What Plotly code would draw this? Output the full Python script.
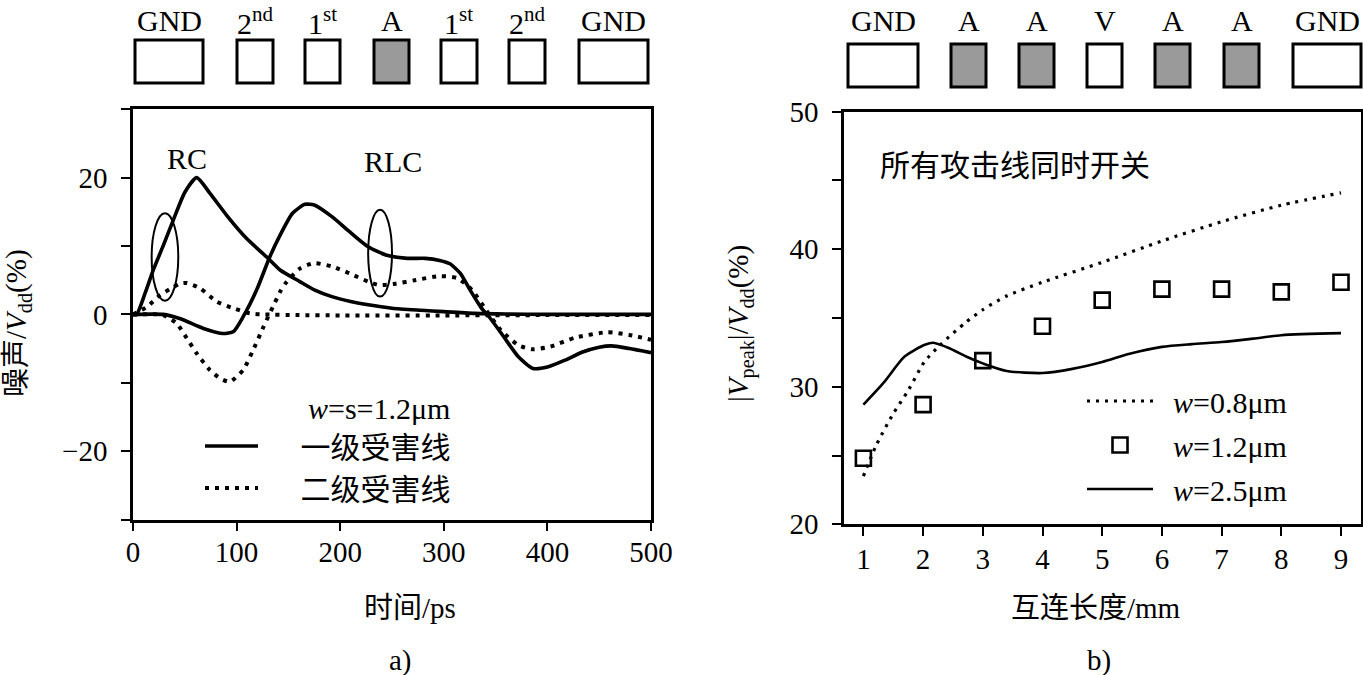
import plotly.graph_objects as go

W, H = 1363, 675

# ---------------- Panel a) data: noise vs time ----------------
# first-level victim, RC model (solid)
t_rc1 = [0, 3.5, 11.7, 19.6, 29.3, 38.9, 50.2, 61.5, 74.3, 90.4, 109.7, 129, 142, 161, 175,
         192, 210, 227, 250, 278, 300, 330, 360, 400, 450, 500]
v_rc1 = [0, 0, 3.1, 6.5, 10.1, 13.8, 17.9, 20.0, 17.7, 14.5, 11.1, 8.4, 6.5, 4.8, 3.6,
         2.6, 1.9, 1.4, 0.9, 0.6, 0.4, 0.15, 0.05, 0, 0, 0]
# first-level victim, RLC model (solid)
t_rlc1 = [0, 29, 45, 68, 87, 97, 106.5, 119.4, 132, 142, 154, 166, 175, 192, 209, 227, 244,
          265, 282, 296, 306, 316, 326, 336, 345, 358, 372, 386, 400, 417, 434, 450, 462, 479, 500]
v_rlc1 = [0, 0, -0.6, -2.05, -2.8, -2.5, -0.3, 3.6, 8.4, 11.6, 14.8, 16.1, 16.0, 14.3, 12.1,
          9.9, 8.7, 8.2, 8.2, 7.9, 7.4, 6.0, 3.4, 1.0, -0.6, -3.3, -6.2, -7.9, -7.7, -6.7,
          -5.5, -4.8, -4.6, -5.0, -5.6]
# second-level victim, RC model (dotted)
t_rc2 = [0, 13.5, 26, 39, 45, 52, 65, 81, 97, 113, 126, 160, 200, 300, 400, 500]
v_rc2 = [0, 1.1, 2.8, 4.0, 4.5, 4.6, 3.8, 1.85, 0.9, 0.15, 0, -0.1, -0.15, -0.15, -0.1, -0.1]
# second-level victim, RLC model (dotted)
t_rlc2 = [0, 29, 42, 52, 61.5, 74, 84, 93.6, 106.5, 116, 126, 135, 142, 147, 161, 175, 192,
          209, 227, 237, 254, 272, 296, 313, 327, 341, 355, 372, 386, 403, 427, 458, 479, 500]
v_rlc2 = [0, -0.1, -1.3, -3.5, -5.7, -8.1, -9.35, -9.85, -8.1, -5.2, -1.8, 1.1, 3.3, 4.5,
          6.7, 7.5, 7.0, 6.0, 4.8, 4.3, 4.5, 5.0, 5.6, 5.3, 3.6, 0.6, -2.3, -4.5, -5.1, -4.7,
          -3.4, -2.6, -3.0, -3.7]

a_xticks = [0, 100, 200, 300, 400, 500]
a_yticks = [-20, 0, 20]
a_yticktext = ["\u221220", "0", "20"]
a_yminor = [-30, -10, 10, 30]

# ---------------- Panel b) data: peak noise vs length ----------------
len_w08 = [1, 1.21, 1.48, 1.76, 2.02, 2.3, 2.72, 3, 3.4, 4, 5, 6, 7, 8, 9]
peak_w08 = [23.5, 25.7, 27.9, 29.8, 31.8, 33.1, 34.7, 35.6, 36.6, 37.6, 39.05, 40.6, 42, 43.2, 44.1]
len_w12 = [1, 2, 3, 4, 5, 6, 7, 8, 9]
peak_w12 = [24.8, 28.7, 31.9, 34.4, 36.3, 37.1, 37.1, 36.9, 37.6]
len_w25 = [1, 1.34, 1.69, 2.03, 2.17, 2.44, 2.72, 3, 3.4, 4, 4.5, 5, 5.46, 6, 6.5, 7, 7.53, 8, 9]
peak_w25 = [28.7, 30.3, 32.2, 33.05, 33.2, 32.8, 32.2, 31.7, 31.15, 31.0, 31.3, 31.8, 32.4,
            32.9, 33.1, 33.25, 33.5, 33.75, 33.9]

b_xticks = [1, 2, 3, 4, 5, 6, 7, 8, 9]
b_yticks = [20, 30, 40, 50]
b_yminor = [25, 35, 45]

# wire cross-section schematic labels
a_wire_labels = ["GND", "2<sup>nd</sup>", "1<sup>st</sup>", "A", "1<sup>st</sup>", "2<sup>nd</sup>", "GND"]
a_wire_fill = ["white", "white", "white", "#9a9a9a", "white", "white", "white"]
b_wire_labels = ["GND", "A", "A", "V", "A", "A", "GND"]
b_wire_fill = ["white", "#9a9a9a", "#9a9a9a", "white", "#9a9a9a", "#9a9a9a", "white"]

# ---------------- styling / layout geometry (pixels) ----------------
SERIF = "Liberation Serif, Noto Sans CJK SC, serif"
CJK = "Noto Sans CJK SC, Liberation Serif, sans-serif"
a_wire_x = [(135, 203), (237, 273), (305, 340), (374, 409), (441, 477), (509, 545), (579, 648)]
a_wire_y = (40, 83)
b_wire_x = [(848, 918), (951, 986), (1019, 1054), (1087, 1122), (1155, 1190), (1224, 1259), (1293, 1361)]
b_wire_y = (44, 87)


def px(x):
    return x / W


def py(y):
    return 1 - y / H


def font(size, fam=SERIF):
    return dict(family=fam, size=size, color="black")


fig = go.Figure()

solid_a = dict(color="black", width=3.6, shape="spline", smoothing=0.6)
dot_a = dict(color="black", width=4, dash="4px,6px", shape="spline", smoothing=0.6)

fig.add_trace(go.Scatter(x=t_rc1, y=v_rc1, mode="lines", line=solid_a, xaxis="x", yaxis="y",
                         name="\u00a0" * 5 + "一级受害线", legendgroup="g1", legend="legend",
                         showlegend=True))
fig.add_trace(go.Scatter(x=t_rlc1, y=v_rlc1, mode="lines", line=solid_a, xaxis="x", yaxis="y",
                         showlegend=False, legendgroup="g1"))
fig.add_trace(go.Scatter(x=t_rc2, y=v_rc2, mode="lines", line=dot_a, xaxis="x", yaxis="y",
                         name="\u00a0" * 5 + "二级受害线", legendgroup="g2", legend="legend",
                         showlegend=True))
fig.add_trace(go.Scatter(x=t_rlc2, y=v_rlc2, mode="lines", line=dot_a, xaxis="x", yaxis="y",
                         showlegend=False, legendgroup="g2"))

fig.add_trace(go.Scatter(x=len_w08, y=peak_w08, mode="lines", xaxis="x2", yaxis="y2",
                         line=dict(color="black", width=3.2, dash="3px,6px", shape="spline", smoothing=0.7),
                         name="\u00a0\u00a0<i>w</i>=0.8\u03bcm", legend="legend2", legendgroup="h1"))
fig.add_trace(go.Scatter(x=len_w12, y=peak_w12, mode="markers", xaxis="x2", yaxis="y2",
                         marker=dict(symbol="square-open", size=15, color="black", line=dict(width=2.6)),
                         name="\u00a0\u00a0<i>w</i>=1.2\u03bcm", legend="legend2", legendgroup="h2"))
fig.add_trace(go.Scatter(x=len_w25, y=peak_w25, mode="lines", xaxis="x2", yaxis="y2",
                         line=dict(color="black", width=2.6, shape="spline", smoothing=0.7),
                         name="\u00a0\u00a0<i>w</i>=2.5\u03bcm", legend="legend2", legendgroup="h3"))

axis_common = dict(showline=True, linecolor="black", linewidth=2.5, mirror=True, ticks="outside",
                   ticklen=9, tickwidth=2, tickcolor="black", showgrid=False, zeroline=False,
                   automargin=False, tickfont=font(29))


def minor(vals):
    return dict(tickmode="array", tickvals=vals, ticks="outside", ticklen=9, tickwidth=2,
                tickcolor="black", showgrid=False)


shapes = []
for (x0, x1), fill in zip(a_wire_x, a_wire_fill):
    shapes.append(dict(type="rect", xref="paper", yref="paper", x0=px(x0), x1=px(x1),
                       y0=py(a_wire_y[1]), y1=py(a_wire_y[0]), fillcolor=fill,
                       line=dict(color="black", width=3)))
for (x0, x1), fill in zip(b_wire_x, b_wire_fill):
    shapes.append(dict(type="rect", xref="paper", yref="paper", x0=px(x0), x1=px(x1),
                       y0=py(b_wire_y[1]), y1=py(b_wire_y[0]), fillcolor=fill,
                       line=dict(color="black", width=3)))
# ellipses marking RC / RLC difference
shapes.append(dict(type="circle", xref="x", yref="y", x0=18, x1=43.7, y0=2.0, y1=14.8,
                   line=dict(color="black", width=2)))
shapes.append(dict(type="circle", xref="x", yref="y", x0=227, x1=250, y0=2.6, y1=15.3,
                   line=dict(color="black", width=2)))


def label(text, x, y, size=29, fam=SERIF, angle=0, xa="center", ya="middle", xref="paper", yref="paper"):
    return dict(text=text, xref=xref, yref=yref, x=x, y=y, xanchor=xa, yanchor=ya,
                textangle=angle, showarrow=False, font=font(size, fam))


ann = []
for (x0, x1), lab in zip(a_wire_x, a_wire_labels):
    ann.append(label(lab, px((x0 + x1) / 2), py(21), size=30))
for (x0, x1), lab in zip(b_wire_x, b_wire_labels):
    ann.append(label(lab, px((x0 + x1) / 2), py(21), size=30))

ann += [
    label("RC", 52, 22.8, size=30, xref="x", yref="y"),
    label("RLC", 251, 22.3, size=30, xref="x", yref="y"),
    label("<i>w</i>=s=1.2\u03bcm", px(379), py(408), size=30),
    label("所有攻击线同时开关", 1.24, 46.3, size=30, fam=CJK, xa="left", xref="x2", yref="y2"),
    # axis titles and panel captions
    label("时间/ps", px(410), py(608)),
    label("a)", px(400), py(660)),
    label("噪声/<i>V</i><sub>dd</sub>(%)", px(18), py(323), angle=-90),
    label("互连长度/mm", px(1096), py(608)),
    label("b)", px(1099), py(660)),
    label("|<i>V</i><sub>peak</sub>|/<i>V</i><sub>dd</sub>(%)", px(740), py(324), angle=-90),
]

fig.update_layout(
    width=W, height=H, margin=dict(l=0, r=0, t=0, b=0, autoexpand=False),
    paper_bgcolor="white", plot_bgcolor="white",
    xaxis=dict(domain=[px(133), px(651)], range=[0, 500], tickvals=a_xticks, anchor="y",
               ticklabelstandoff=-4, **axis_common),
    yaxis=dict(domain=[py(519.5), py(109.3)], range=[-30, 30], tickvals=a_yticks,
               ticktext=a_yticktext, anchor="x", ticklabelstandoff=8, minor=minor(a_yminor),
               **axis_common),
    xaxis2=dict(domain=[px(844), px(1361)], range=[0.675, 9.335], tickvals=b_xticks, anchor="y2",
                ticklabelstandoff=-2, **axis_common),
    yaxis2=dict(domain=[py(524.3), py(111.7)], range=[20, 50], tickvals=b_yticks,
                anchor="x2", ticklabelstandoff=8, minor=minor(b_yminor), **axis_common),
    legend=dict(x=px(200), y=py(420), xanchor="left", yanchor="top", bgcolor="rgba(0,0,0,0)",
                font=font(30), itemwidth=53, traceorder="grouped", tracegroupgap=0),
    legend2=dict(x=px(1082), y=py(375), xanchor="left", yanchor="top", bgcolor="rgba(0,0,0,0)",
                 font=font(30), itemwidth=66, traceorder="grouped", tracegroupgap=2),
    shapes=shapes, annotations=ann,
)

fig.write_html("out.html", config={"displayModeBar": False},
               post_script="document.body.style.margin='0px';")
